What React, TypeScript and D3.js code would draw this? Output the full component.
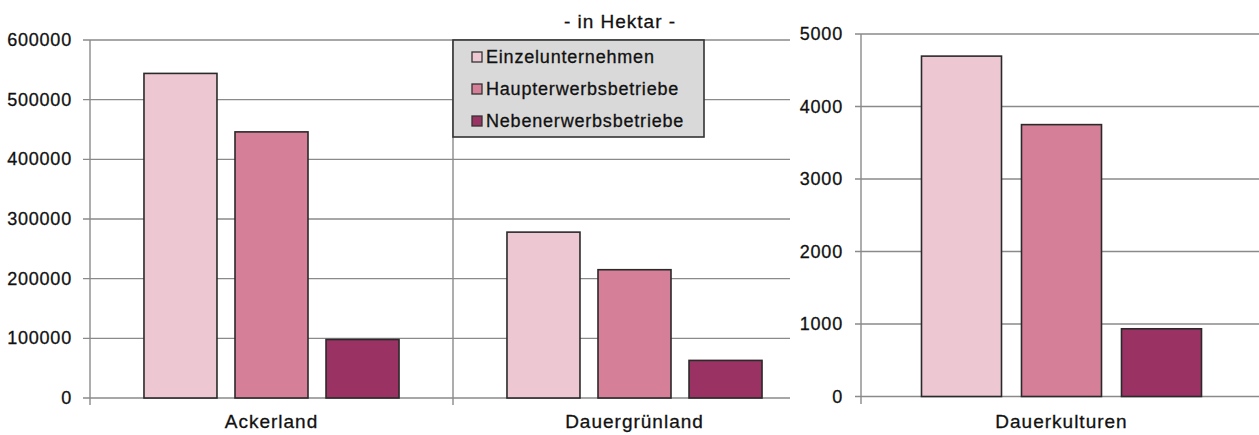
import React from "react";
import * as d3 from "d3";

const seriesNames = ["Einzelunternehmen", "Haupterwerbsbetriebe", "Nebenerwerbsbetriebe"];
const seriesColors = ["#EDC8D3", "#D57F99", "#9A3363"];

const leftCategories = ["Ackerland", "Dauergrünland"];
const leftValues = [
  [544000, 446000, 98000],
  [278000, 215000, 63000],
];
const leftTicks = [0, 100000, 200000, 300000, 400000, 500000, 600000];

const rightCategories = ["Dauerkulturen"];
const rightValues = [[4695, 3750, 934]];
const rightTicks = [0, 1000, 2000, 3000, 4000, 5000];

const title = "- in Hektar -";

const FONT = "'Liberation Sans', Arial, sans-serif";
const GRID = "#8a8a8a";
const TEXT = "#111";
const TS = { stroke: "#111", strokeWidth: 0.3 };

export default function App() {
  // left chart
  const lx = d3.scaleBand<string>().domain(leftCategories).range([90, 816]);
  const ly = d3.scaleLinear().domain([0, 600000]).range([398, 40]);
  const lInner = d3
    .scaleBand<string>()
    .domain(seriesNames)
    .range([0, lx.bandwidth()])
    .paddingInner(0.198)
    .paddingOuter(0.593);

  // right chart
  const rx = d3.scaleBand<string>().domain(rightCategories).range([861, 1262]);
  const ry = d3.scaleLinear().domain([0, 5000]).range([396.5, 34]);
  const rInner = d3
    .scaleBand<string>()
    .domain(seriesNames)
    .range([0, rx.bandwidth()])
    .paddingInner(0.2)
    .paddingOuter(0.605);

  return (
    <svg
      width={1259}
      height={435}
      style={{ position: "absolute", left: 0, top: 0, background: "#fff" }}
      fontFamily={FONT}
    >
      <rect x={0} y={0} width={1259} height={435} fill="#fff" />
      {/* LEFT CHART */}
      <g>
        {leftTicks.map((t) => (
          <g key={t}>
            <line x1={83} x2={790} y1={ly(t)} y2={ly(t)} stroke={GRID} strokeWidth={1.4} />
            <text
              x={72}
              y={ly(t)}
              textAnchor="end"
              dominantBaseline="central"
              fontSize={18}
              letterSpacing={0.8}
              fill={TEXT}
              {...TS}
            >
              {t}
            </text>
          </g>
        ))}
        {/* category dividers */}
        {[...leftCategories.map((c) => lx(c) as number), 816].map((x, i) => (
          <line key={i} x1={x} x2={x} y1={ly(600000)} y2={405} stroke={GRID} strokeWidth={1.4} />
        ))}
        {leftCategories.map((c, ci) => (
          <g key={c}>
            {seriesNames.map((s, si) => {
              const x = (lx(c) as number) + (lInner(s) as number);
              const v = leftValues[ci][si];
              return (
                <rect
                  key={s}
                  x={x}
                  y={ly(v)}
                  width={lInner.bandwidth()}
                  height={ly(0) - ly(v)}
                  fill={seriesColors[si]}
                  stroke="#2a2a2a"
                  strokeWidth={1.6}
                />
              );
            })}
            <text
              x={(lx(c) as number) + lx.bandwidth() / 2}
              y={428}
              textAnchor="middle"
              fontSize={19}
              letterSpacing={1}
              fill={TEXT}
              {...TS}
            >
              {c}
            </text>
          </g>
        ))}
      </g>

      {/* title */}
      <text x={620} y={28} textAnchor="middle" fontSize={19} letterSpacing={1} fill={TEXT} {...TS}>
        {title}
      </text>

      {/* legend */}
      <g>
        <rect x={453} y={40} width={251} height={97} fill="#D9D9D9" stroke="#333" strokeWidth={1.6} />
        {seriesNames.map((s, i) => {
          const cy = 57 + i * 32;
          return (
            <g key={s}>
              <rect x={472} y={cy - 5} width={10} height={10} fill={seriesColors[i]} stroke="#333" strokeWidth={1.3} />
              <text x={486} y={cy} dominantBaseline="central" fontSize={18} letterSpacing={0.8} fill={TEXT} {...TS}>
                {s}
              </text>
            </g>
          );
        })}
      </g>

      {/* RIGHT CHART */}
      <rect x={790} y={0} width={469} height={435} fill="#fff" />
      <g>
        {rightTicks.map((t) => (
          <g key={t}>
            <line x1={855} x2={1259} y1={ry(t)} y2={ry(t)} stroke={GRID} strokeWidth={1.4} />
            <text
              x={843}
              y={ry(t)}
              textAnchor="end"
              dominantBaseline="central"
              fontSize={18}
              letterSpacing={0.8}
              fill={TEXT}
              {...TS}
            >
              {t}
            </text>
          </g>
        ))}
        <line x1={861} x2={861} y1={ry(5000)} y2={404} stroke={GRID} strokeWidth={1.4} />
        {rightCategories.map((c, ci) => (
          <g key={c}>
            {seriesNames.map((s, si) => {
              const x = (rx(c) as number) + (rInner(s) as number);
              const v = rightValues[ci][si];
              return (
                <rect
                  key={s}
                  x={x}
                  y={ry(v)}
                  width={rInner.bandwidth()}
                  height={ry(0) - ry(v)}
                  fill={seriesColors[si]}
                  stroke="#2a2a2a"
                  strokeWidth={1.6}
                />
              );
            })}
            <text
              x={(rx(c) as number) + rx.bandwidth() / 2}
              y={428}
              textAnchor="middle"
              fontSize={19}
              letterSpacing={1}
              fill={TEXT}
              {...TS}
            >
              {c}
            </text>
          </g>
        ))}
      </g>
    </svg>
  );
}
